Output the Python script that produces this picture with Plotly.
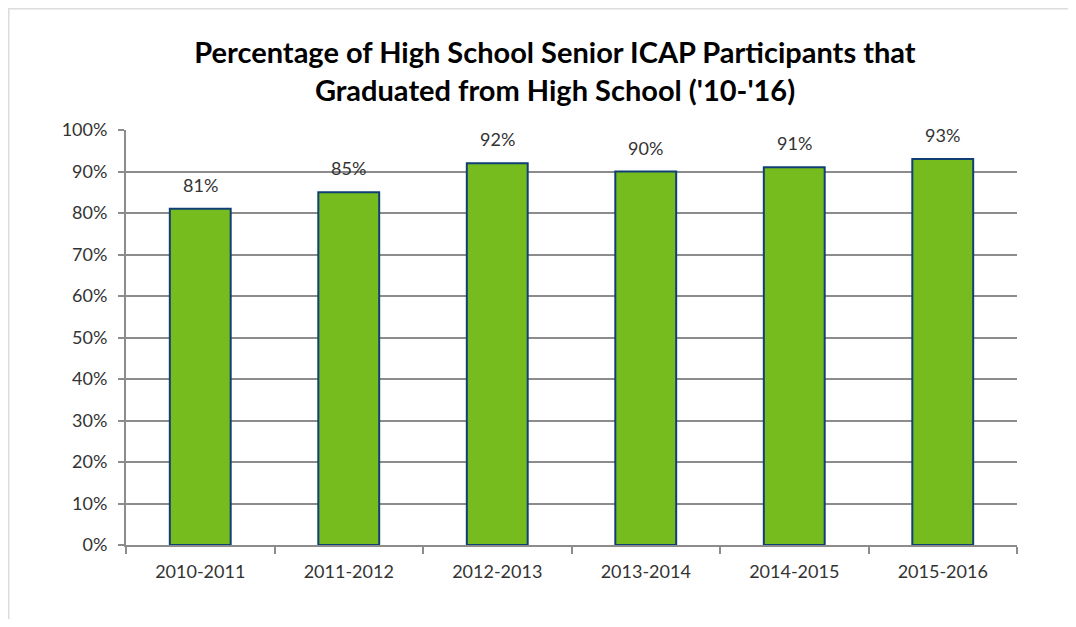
import plotly.graph_objs as go

# donnees
years = ['2010-2011', '2011-2012', '2012-2013', '2013-2014', '2014-2015', '2015-2016']
pct_graduated = [81, 85, 92, 90, 91, 93]
y_ticks = [0, 10, 20, 30, 40, 50, 60, 70, 80, 90, 100]

FONT = 'Lato, Open Sans, sans-serif'

bar = go.Bar(
    x=years,
    y=pct_graduated,
    width=0.41,
    marker=dict(color='#77BC1F', line=dict(color='#0F3F73', width=2)),
    hoverinfo='x+y',
)

fig = go.Figure(data=[bar])

# etiquettes au-dessus des barres
for yr, v in zip(years, pct_graduated):
    fig.add_annotation(
        x=yr, y=v, text=f'{v}%', showarrow=False,
        yanchor='middle', yshift=24,
        font=dict(family=FONT, size=18, color='#333333'),
    )

# la page est decalee de 8px : plot area x 118 -> 1009, y 122 -> 537 (coord. figure)
W, H = 1060, 611
L, T = 118, 122
R, B = W - 1009, H - 537
pw, ph = W - L - R, H - T - B

def px(x):
    return (x - L) / pw

def py(y):
    return (H - B - y) / ph

fig['layout'].update(
    width=W,
    height=H,
    margin=dict(l=L, r=R, t=T, b=B),
    paper_bgcolor='white',
    plot_bgcolor='white',
    showlegend=False,
    font=dict(family=FONT, color='#333333'),
    title=dict(
        text='<b>Percentage of High School Senior ICAP Participants that<br>Graduated from High School (\'10-\'16)</b>',
        x=(555 - 8) / W, xanchor='center',
        y=1 - 55 / H, yanchor='middle',
        font=dict(family=FONT, size=29, color='#000000'),
    ),
    xaxis=dict(
        showline=True, linecolor='#8c8c8c', linewidth=2,
        ticks='outside', tickson='boundaries', ticklen=7, tickwidth=2, tickcolor='#8c8c8c',
        showgrid=False, ticklabelstandoff=9,
        tickfont=dict(family=FONT, size=18, color='#333333'),
    ),
    yaxis=dict(
        range=[0, 100],
        tickvals=y_ticks,
        ticktext=[f'{v}%' for v in y_ticks],
        showline=True, linecolor='#8c8c8c', linewidth=2,
        ticks='outside', ticklen=6, tickwidth=2, tickcolor='#8c8c8c',
        showgrid=True, gridcolor='#8c8c8c', gridwidth=2,
        zeroline=False, ticklabelstandoff=7,
        tickfont=dict(family=FONT, size=18, color='#333333'),
    ),
    shapes=[dict(
        type='rect', xref='paper', yref='paper',
        x0=px(0.8), x1=px(1090), y0=py(0.8), y1=py(640),
        line=dict(color='#dcdcdc', width=1.5), layer='below',
    )],
)

fig.write_html('out.html')
